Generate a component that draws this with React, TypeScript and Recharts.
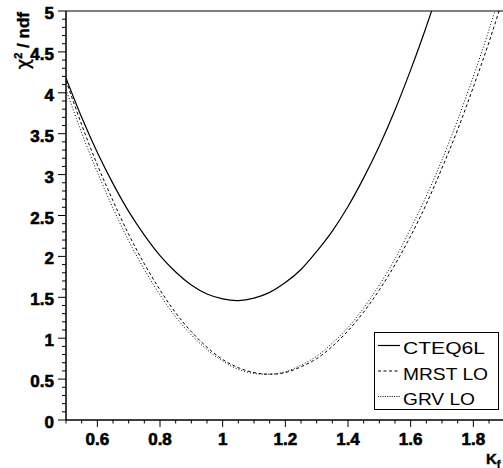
import React from 'react';
import { LineChart, Line, XAxis, YAxis, Legend, ReferenceLine, Label } from 'recharts';

const kValues = [0.5, 0.55, 0.6, 0.65, 0.7, 0.75, 0.8, 0.85, 0.9, 0.95, 1.0, 1.05, 1.1, 1.15, 1.2, 1.25, 1.3, 1.35, 1.4, 1.45, 1.5, 1.55, 1.6, 1.65, 1.7, 1.75, 1.8, 1.85, 1.9];
const cteq6l = [4.18, 3.70, 3.27, 2.89, 2.55, 2.26, 2.01, 1.81, 1.65, 1.54, 1.48, 1.46, 1.49, 1.56, 1.68, 1.84, 2.06, 2.31, 2.61, 2.96, 3.35, 3.79, 4.28, 4.81, 5.39, null, null, null, null];
const mrstLO = [4.15, 3.61, 3.12, 2.68, 2.27, 1.91, 1.59, 1.31, 1.08, 0.89, 0.74, 0.64, 0.58, 0.56, 0.58, 0.65, 0.75, 0.90, 1.09, 1.32, 1.59, 1.90, 2.25, 2.64, 3.08, 3.55, 4.07, 4.62, 5.22];
const grvLO = [4.04, 3.51, 3.03, 2.59, 2.19, 1.84, 1.53, 1.26, 1.04, 0.86, 0.72, 0.62, 0.57, 0.56, 0.59, 0.67, 0.78, 0.94, 1.13, 1.37, 1.65, 1.97, 2.34, 2.74, 3.18, 3.67, 4.20, 4.77, 5.38];

const seriesNames = ['CTEQ6L', 'MRST LO', 'GRV LO'];

const xTicks = [0.5, 0.55, 0.6, 0.65, 0.7, 0.75, 0.8, 0.85, 0.9, 0.95, 1.0, 1.05, 1.1, 1.15, 1.2, 1.25, 1.3, 1.35, 1.4, 1.45, 1.5, 1.55, 1.6, 1.65, 1.7, 1.75, 1.8, 1.85, 1.9, 1.95, 2.0];
const xLabels = ['0.6', '0.8', '1', '1.2', '1.4', '1.6', '1.8', '2'];
const yTicks = [0, 0.1, 0.2, 0.3, 0.4, 0.5, 0.6, 0.7, 0.8, 0.9, 1, 1.1, 1.2, 1.3, 1.4, 1.5, 1.6, 1.7, 1.8, 1.9, 2, 2.1, 2.2, 2.3, 2.4, 2.5, 2.6, 2.7, 2.8, 2.9, 3, 3.1, 3.2, 3.3, 3.4, 3.5, 3.6, 3.7, 3.8, 3.9, 4, 4.1, 4.2, 4.3, 4.4, 4.5, 4.6, 4.7, 4.8, 4.9, 5];
const yLabels = ['0', '0.5', '1', '1.5', '2', '2.5', '3', '3.5', '4', '4.5', '5'];

const data = kValues.map((k, i) => ({ k, cteq: cteq6l[i], mrst: mrstLO[i], grv: grvLO[i] }));

const FONT = '"Liberation Sans", Arial, Helvetica, sans-serif';
const BOLD: React.CSSProperties = { fontFamily: FONT, fontWeight: 700 };

const fmt = (v: number) => String(Math.round(v * 100) / 100);

const XTick = (props: any) => {
  const { x, y, payload } = props;
  const lbl = fmt(payload.value);
  const major = xLabels.includes(lbl);
  return (
    <g>
      <line x1={x} y1={y} x2={x} y2={y + (major ? 7 : 3.5)} stroke="#000" strokeWidth={1} />
      {major && x < 500 && (
        <text x={x} y={y + 25} textAnchor="middle" style={BOLD} fontSize={17} fill="#000" stroke="#000" strokeWidth={0.6}>
          {lbl}
        </text>
      )}
    </g>
  );
};

const YTick = (props: any) => {
  const { x, y, payload } = props;
  const lbl = fmt(payload.value);
  const major = yLabels.includes(lbl);
  return (
    <g>
      <line x1={x} y1={y} x2={x - (major ? 8 : 4)} y2={y} stroke="#000" strokeWidth={1} />
      {major && (
        <text x={x - 12} y={y + 8} textAnchor="end" style={BOLD} fontSize={17} fill="#000" stroke="#000" strokeWidth={0.6}>
          {lbl}
        </text>
      )}
    </g>
  );
};

const legendStyles = [
  { dash: undefined, width: 1.2 },
  { dash: '3 2.5', width: 1 },
  { dash: '1 1.3', width: 1 },
];
const legendTextLen = [82, 85, 72];

const renderLegend = () => (
  <svg width={125} height={79} style={{ display: 'block' }}>
    <rect x={0.5} y={0.5} width={124} height={77} fill="#fff" stroke="#000" strokeWidth={1} />
    {seriesNames.map((name, i) => (
      <g key={name}>
        <line x1={4} x2={26} y1={13.5 + i * 25.5} y2={13.5 + i * 25.5} stroke="#000" strokeWidth={legendStyles[i].width} strokeDasharray={legendStyles[i].dash} />
        <text x={29} y={22 + i * 25.5} fontFamily={FONT} fontSize={16.5} fill="#000" textLength={legendTextLen[i]} lengthAdjust="spacingAndGlyphs">
          {name}
        </text>
      </g>
    ))}
  </svg>
);

const YTitle = () => (
  <text transform="rotate(-90, 29, 12)" x={29} y={12} textAnchor="end" style={BOLD} fontSize={17} fill="#000" stroke="#000" strokeWidth={0.4}>
    <tspan style={{ fontFamily: '"DejaVu Sans", sans-serif', fontWeight: 400 }} fontSize={18}>χ</tspan>
    <tspan fontSize={11} dy={-7}>2</tspan>
    <tspan dy={7}> / ndf</tspan>
  </text>
);

const XTitle = () => (
  <text x={486} y={464} style={BOLD} fontSize={15} fill="#000" stroke="#000" strokeWidth={0.4}>
    K<tspan fontSize={11} dy={4}>f</tspan>
  </text>
);

export default function App() {
  return (
    <div style={{ position: 'absolute', left: 0, top: 0, width: 503, height: 468, overflow: 'hidden', background: '#fff' }}>
      <LineChart width={560} height={468} data={data} margin={{ top: 11, right: 24, bottom: 0, left: 0 }}>
        <XAxis
          dataKey="k"
          type="number"
          domain={[0.5, 2.0]}
          allowDataOverflow
          ticks={xTicks}
          interval={0}
          tick={<XTick />}
          tickLine={false}
          tickSize={0}
          tickMargin={0}
          height={48}
          axisLine={{ stroke: '#000', strokeWidth: 1.5 }}
        >
          <Label content={<XTitle />} />
        </XAxis>
        <YAxis
          type="number"
          domain={[0, 5]}
          allowDataOverflow
          ticks={yTicks}
          interval={0}
          tick={<YTick />}
          tickLine={false}
          tickSize={0}
          tickMargin={0}
          width={66}
          axisLine={{ stroke: '#000', strokeWidth: 1.5 }}
        >
          <Label content={<YTitle />} />
        </YAxis>
        <ReferenceLine y={5} stroke="#000" strokeWidth={1.2} />
        <Line type="natural" dataKey="cteq" name={seriesNames[0]} stroke="#000" strokeWidth={1.2} dot={false} isAnimationActive={false} />
        <Line type="natural" dataKey="mrst" name={seriesNames[1]} stroke="#000" strokeWidth={1} strokeDasharray="3 2.5" dot={false} isAnimationActive={false} />
        <Line type="natural" dataKey="grv" name={seriesNames[2]} stroke="#000" strokeWidth={1} strokeDasharray="1 2" dot={false} isAnimationActive={false} />
        <Legend
          layout="vertical"
          align="center"
          verticalAlign="middle"
          content={renderLegend}
          wrapperStyle={{ position: 'absolute', left: 374, top: 332, width: 125, height: 79 }}
        />
      </LineChart>
    </div>
  );
}
